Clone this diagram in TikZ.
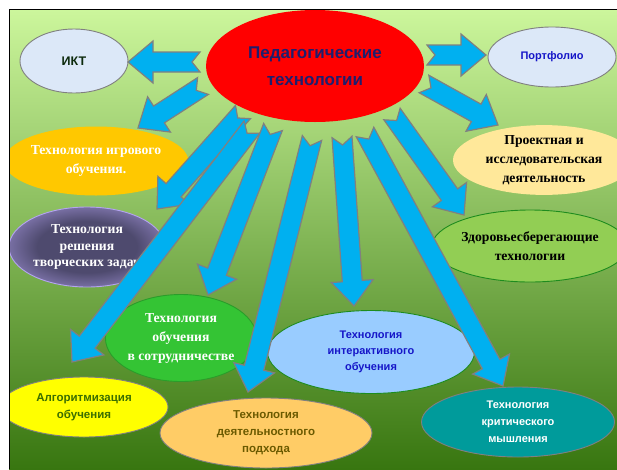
\documentclass[tikz,border=0pt]{standalone}
\usepackage{fontspec}
\setmainfont{Liberation Serif}
\setsansfont{Liberation Sans}
\usetikzlibrary{shapes.geometric,calc}
\definecolor{bgtop}{RGB}{204,246,156}
\definecolor{bgmid}{RGB}{138,200,78}
\definecolor{bgbot}{RGB}{56,118,16}
\definecolor{pedred}{RGB}{255,0,0}
\definecolor{pedtext}{RGB}{30,30,110}
\definecolor{iktfill}{RGB}{220,232,248}
\definecolor{ikttext}{RGB}{12,42,12}
\definecolor{bluetext}{RGB}{22,22,200}
\definecolor{gamefill}{RGB}{255,200,0}
\definecolor{creatin}{RGB}{78,74,110}
\definecolor{creatout}{RGB}{180,164,240}
\definecolor{projfill}{RGB}{255,232,154}
\definecolor{healthfill}{RGB}{146,206,84}
\definecolor{healthline}{RGB}{30,140,30}
\definecolor{coopfill}{RGB}{52,196,52}
\definecolor{interfill}{RGB}{153,204,255}
\definecolor{algofill}{RGB}{255,255,0}
\definecolor{algotext}{RGB}{58,110,0}
\definecolor{actfill}{RGB}{255,204,102}
\definecolor{acttext}{RGB}{107,90,0}
\definecolor{critfill}{RGB}{0,155,155}
\definecolor{techline}{RGB}{128,128,128}
\definecolor{arrowblue}{RGB}{0,176,240}
\pgfdeclareradialshading{creatshade}{\pgfpoint{0bp}{0bp}}{color(0bp)=(creatin); color(16bp)=(creatin); color(38bp)=(creatout); color(50bp)=(creatout)}
\newcommand{\blockarrow}[2]{%
  \coordinate (hb) at ($(#2)!25pt!(#1)$);
  \draw[arr] ($(#1)!10pt!90:(#2)$) -- ($(hb)!10pt!90:(#2)$) -- ($(hb)!21pt!90:(#2)$) -- (#2)
    -- ($(hb)!21pt!-90:(#2)$) -- ($(hb)!10pt!-90:(#2)$) -- ($(#1)!10pt!-90:(#2)$) -- ($(#1)!8pt!(#2)$) -- cycle;}
\begin{document}
\begin{tikzpicture}[x=1pt,y=-1pt,
  tech/.style={ellipse,draw=techline,line width=0.9pt,inner sep=0pt,align=center},
  sanstext/.style={font=\sffamily\bfseries\fontsize{11}{16}\selectfont},
  seriftext/.style={font=\bfseries\fontsize{13.7}{19}\selectfont},
  arr/.style={fill=arrowblue,draw=techline,line width=1.2pt,line join=miter}]
\useasboundingbox (0,0) rectangle (617,469);
\fill[white] (0,0) rectangle (617,469);
\begin{scope}
\clip (9,9.5) rectangle (617,469);
\fill[top color=bgtop,middle color=bgmid,bottom color=bgbot] (9,9.5) rectangle (617,469);
\node[tech,draw=none,fill=pedred,text=pedtext,minimum width=218pt,minimum height=112pt,
  font=\sffamily\bfseries\fontsize{17}{27}\selectfont] (ped) at (315,66) {Педагогические\\технологии};
\node[tech,sanstext,fill=iktfill,text=ikttext,minimum width=108pt,minimum height=64pt,
  font=\sffamily\bfseries\fontsize{12.5}{16}\selectfont] (ikt) at (74,61) {ИКТ};
\node[tech,sanstext,fill=iktfill,text=bluetext,minimum width=128pt,minimum height=60pt] (port) at (552,57) {Портфолио};
\node[tech,seriftext,draw=none,fill=gamefill,text=white,minimum width=172pt,minimum height=69pt] (game) at (96,161) {Технология игрового\\обучения.};
\node[tech,seriftext,draw=creatout,shading=creatshade,text=white,minimum width=156pt,minimum height=80pt,
  font=\bfseries\fontsize{13.7}{16.5}\selectfont] (creat) at (87,247) {Технология\\решения\\творческих задач};
\node[tech,seriftext,draw=none,fill=projfill,text=black,minimum width=182pt,minimum height=67pt] (proj) at (544,160) {Проектная и\\исследовательская\\деятельность};
\node[tech,seriftext,draw=healthline,fill=healthfill,text=black,minimum width=196pt,minimum height=72pt] (health) at (530,246) {Здоровьесберегающие\\технологии};
\node[tech,seriftext,draw=coopfill!80!black,fill=coopfill,text=white,minimum width=146pt,minimum height=87pt] (coop) at (181,338) {Технология\\обучения\\в сотрудничестве};
\node[tech,sanstext,draw=healthline,fill=interfill,text=bluetext,minimum width=207pt,minimum height=83pt] (inter) at (371,352) {Технология\\интерактивного\\обучения};
\node[tech,sanstext,fill=algofill,text=algotext,minimum width=168pt,minimum height=60pt,
  font=\sffamily\bfseries\fontsize{11.5}{17}\selectfont] (algo) at (84,407) {Алгоритмизация\\обучения};
\node[tech,sanstext,fill=actfill,text=acttext,minimum width=212pt,minimum height=70pt,
  font=\sffamily\bfseries\fontsize{11.5}{17}\selectfont] (act) at (266,433) {Технология\\деятельностного\\подхода};
\node[tech,sanstext,fill=critfill,text=white,minimum width=193pt,minimum height=70pt,
  font=\sffamily\bfseries\fontsize{11}{17}\selectfont] (crit) at (518,422) {Технология\\критического\\мышления};
\coordinate (ikt-s) at (200,62);
\coordinate (ikt-e) at (128,62);
\coordinate (port-s) at (427,55);
\coordinate (port-e) at (486,55);
\coordinate (game-s) at (203,86);
\coordinate (game-e) at (138,128);
\coordinate (creat-s) at (243,112);
\coordinate (creat-e) at (157,209);
\coordinate (algo-s) at (252,127);
\coordinate (algo-e) at (72,362);
\coordinate (coop-s) at (273,127);
\coordinate (coop-e) at (208,295);
\coordinate (act-s) at (312,138);
\coordinate (act-e) at (248,392);
\coordinate (inter-s) at (342,137);
\coordinate (inter-e) at (354,306);
\coordinate (crit-s) at (365,132);
\coordinate (crit-e) at (503,386);
\coordinate (health-s) at (392,114);
\coordinate (health-e) at (464,215);
\coordinate (proj-s) at (424,84);
\coordinate (proj-e) at (498,125);
\blockarrow{ikt-s}{ikt-e}
\blockarrow{port-s}{port-e}
\blockarrow{game-s}{game-e}
\blockarrow{creat-s}{creat-e}
\blockarrow{algo-s}{algo-e}
\blockarrow{coop-s}{coop-e}
\blockarrow{act-s}{act-e}
\blockarrow{inter-s}{inter-e}
\blockarrow{crit-s}{crit-e}
\blockarrow{health-s}{health-e}
\blockarrow{proj-s}{proj-e}
\end{scope}
\draw[line width=0.8pt] (9,469) -- (9,9.5) -- (617,9.5);
\end{tikzpicture}
\end{document}
